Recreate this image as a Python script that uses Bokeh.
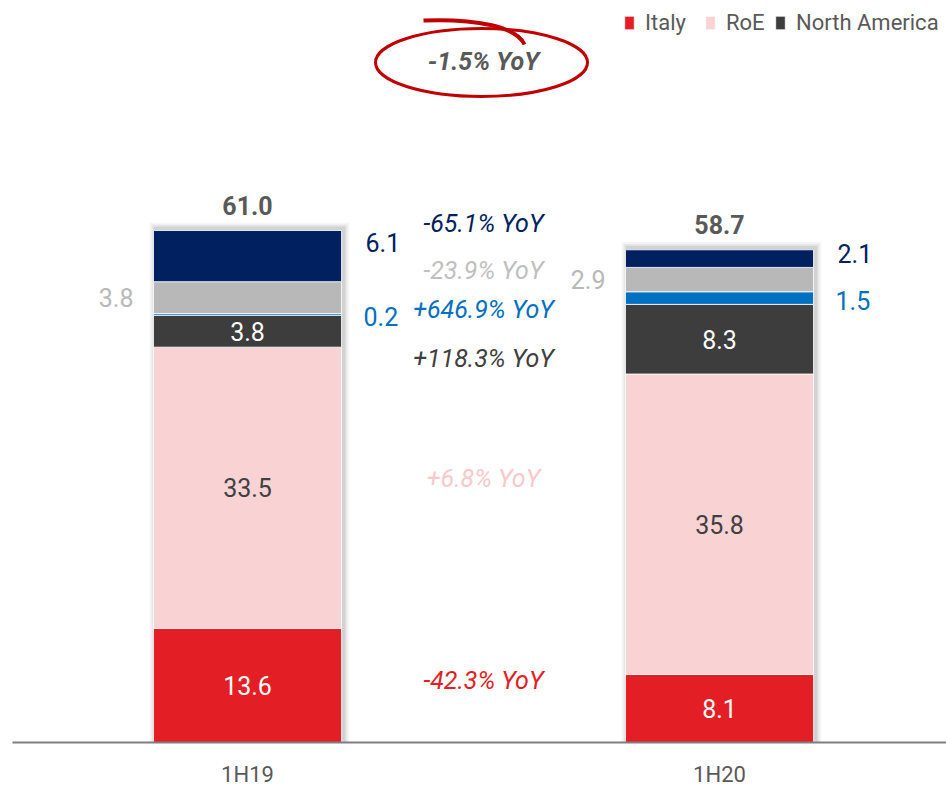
import numpy as np
from bokeh.plotting import figure
from bokeh.models import Range1d, FixedTicker, Legend, LegendItem, ColumnDataSource
from bokeh.core.properties import value
from bokeh.embed import file_html
from bokeh.resources import INLINE

# ---------------- data ----------------
periods = ["1H19", "1H20"]
italy = [13.6, 8.1]
roe = [33.5, 35.8]
north_america = [3.8, 8.3]
seg_blue = [0.2, 1.5]
seg_grey = [3.8, 2.9]
seg_navy = [6.1, 2.1]
totals = [61.0, 58.7]
yoy_labels = ["-42.3% YoY", "+6.8% YoY", "+118.3% YoY", "+646.9% YoY", "-23.9% YoY", "-65.1% YoY"]
headline = "-1.5% YoY"
legend_labels = ["Italy", "RoE", "North America"]

# ---------------- style / layout ----------------
FONT = value("Roboto")
colors = ["#E31E24", "#F9D2D4", "#3D3D3D", "#0070C0", "#B8B8B8", "#002060"]
yoy_colors = ["#E31E24", "#F7C9CB", "#404040", "#0070C0", "#BFBFBF", "#002060"]
inside_colors = ["#FFFFFF", "#404040", "#FFFFFF"]
TXT = "#595959"
W, H = 946, 789
BORDER_L, BORDER_B = 12, 47
FRAME_W, FRAME_H = W - BORDER_L, H - BORDER_B
PX_PER_UNIT = 512 / 61.0
PX_PER_CAT = 472.0
CAT0_PX = 235.0          # frame-relative px of first category centre
BAR_W = 188 / PX_PER_CAT

x0 = -CAT0_PX / PX_PER_CAT
x1 = (FRAME_W - CAT0_PX) / PX_PER_CAT
y1 = FRAME_H / PX_PER_UNIT

def px_x(px):   # canvas px -> data x
    return (px - BORDER_L - CAT0_PX) / PX_PER_CAT

def px_y(py):   # canvas px -> data y
    return (FRAME_H - py) / PX_PER_UNIT

xs = list(range(len(periods)))

p = figure(width=W, height=H, x_range=Range1d(x0, x1), y_range=Range1d(0, y1),
           output_backend="svg", toolbar_location=None, y_axis_location=None,
           min_border_left=BORDER_L, min_border_right=0, min_border_top=0,
           min_border_bottom=BORDER_B, outline_line_color=None)
p.grid.visible = False
p.background_fill_color = "white"

ax = p.xaxis[0]
ax.ticker = FixedTicker(ticks=xs)
ax.major_label_overrides = {i: s for i, s in zip(xs, periods)}
ax.axis_line_color = "#7F7F7F"
ax.axis_line_width = 2
ax.major_tick_line_color = None
ax.minor_tick_line_color = None
ax.major_label_standoff = 13
ax.major_label_text_font = "Roboto"
ax.major_label_text_font_size = "22px"
ax.major_label_text_color = TXT

# soft shadows behind bars
for dpx, alpha in [(6, 0.035), (4, 0.06), (2, 0.09)]:
    p.vbar(x=[x + 2 / PX_PER_CAT for x in xs], width=BAR_W + 2 * dpx / PX_PER_CAT,
           top=[t + (2 + dpx) / PX_PER_UNIT for t in totals], bottom=0,
           fill_color="#000000", fill_alpha=alpha, line_color=None)

src = ColumnDataSource(dict(x=xs, italy=italy, roe=roe, na=north_america,
                            blue=seg_blue, grey=seg_grey, navy=seg_navy))
stackers = ["italy", "roe", "na", "blue", "grey", "navy"]
rs = p.vbar_stack(stackers, x="x", width=BAR_W, fill_color=colors,
                  line_color="white", line_width=0.8, source=src)

series = [italy, roe, north_america, seg_blue, seg_grey, seg_navy]
arr = np.array(series)
tops = np.cumsum(arr, axis=0)
bottoms = tops - arr
mids = (tops + bottoms) / 2

# labels inside bars (Italy, RoE, North America)
for k in range(3):
    p.text(x=xs, y=list(mids[k]), text=[f"{v:.1f}" for v in series[k]],
           text_font=FONT, text_font_size="25px", text_color=inside_colors[k],
           text_align="center", text_baseline="middle")

# labels outside bars
half = BAR_W / 2
navy_nudge = [-14, -5]
p.text(x=[x + half for x in xs], y=list(mids[3]), text=[f"{v:.1f}" for v in seg_blue],
       x_offset=22, y_offset=2, text_font=FONT, text_font_size="25px", text_color=colors[3],
       text_align="left", text_baseline="middle")
p.text(x=[x - half for x in xs], y=list(mids[4]), text=[f"{v:.1f}" for v in seg_grey],
       x_offset=-20, text_font=FONT, text_font_size="25px", text_color=colors[4],
       text_align="right", text_baseline="middle")
p.text(x=[x + half for x in xs], y=list(mids[5]), text=[f"{v:.1f}" for v in seg_navy],
       x_offset=24, y_offset=navy_nudge, text_font=FONT, text_font_size="25px",
       text_color=colors[5], text_align="left", text_baseline="middle")

# totals
p.text(x=xs, y=totals, text=[f"{v:.1f}" for v in totals], y_offset=-25,
       text_font=FONT, text_font_size="25px", text_font_style="bold", text_color=TXT,
       text_align="center", text_baseline="middle")

# YoY column
yoy_y = [7.39, 31.45, 45.75, 51.59, 56.24, 61.84]
mid_x = (xs[0] + xs[1]) / 2
for lab, yy, c in zip(yoy_labels, yoy_y, yoy_colors):
    p.text(x=[mid_x], y=[yy], text=[lab], text_font=FONT, text_font_size="25px",
           text_font_style="italic", text_color=c, text_align="center", text_baseline="middle")

# headline with red hand-drawn ellipse
p.ellipse(x=[px_x(481)], y=[px_y(62)], width=212, height=68, width_units="screen",
          height_units="screen", fill_color=None, line_color="#C00000", line_width=3)
p.bezier(x0=[px_x(423)], y0=[px_y(20)], x1=[px_x(524)], y1=[px_y(44)],
         cx0=[px_x(475)], cy0=[px_y(18)], cx1=[px_x(516)], cy1=[px_y(26)],
         line_color="#C00000", line_width=4)
p.text(x=[mid_x], y=[px_y(61)], text=[headline], text_font=FONT, text_font_size="25px",
       text_font_style="bold italic", text_color=TXT, text_align="center",
       text_baseline="middle")

# legend: one entry per block, placed like the reference
legend_x = [611, 692, 762]
for lab, r, lx in zip(legend_labels, rs[:3], legend_x):
    lg = Legend(items=[LegendItem(label=lab, renderers=[r])],
                location=(lx, FRAME_H - 35), orientation="horizontal",
                glyph_width=12, glyph_height=17, label_standoff=10, spacing=0,
                padding=0, margin=0, border_line_color=None, background_fill_alpha=0,
                label_text_font="Roboto", label_text_font_size="22px",
                label_text_color=TXT)
    p.add_layout(lg)

open("out.html", "w").write(file_html(p, INLINE))
